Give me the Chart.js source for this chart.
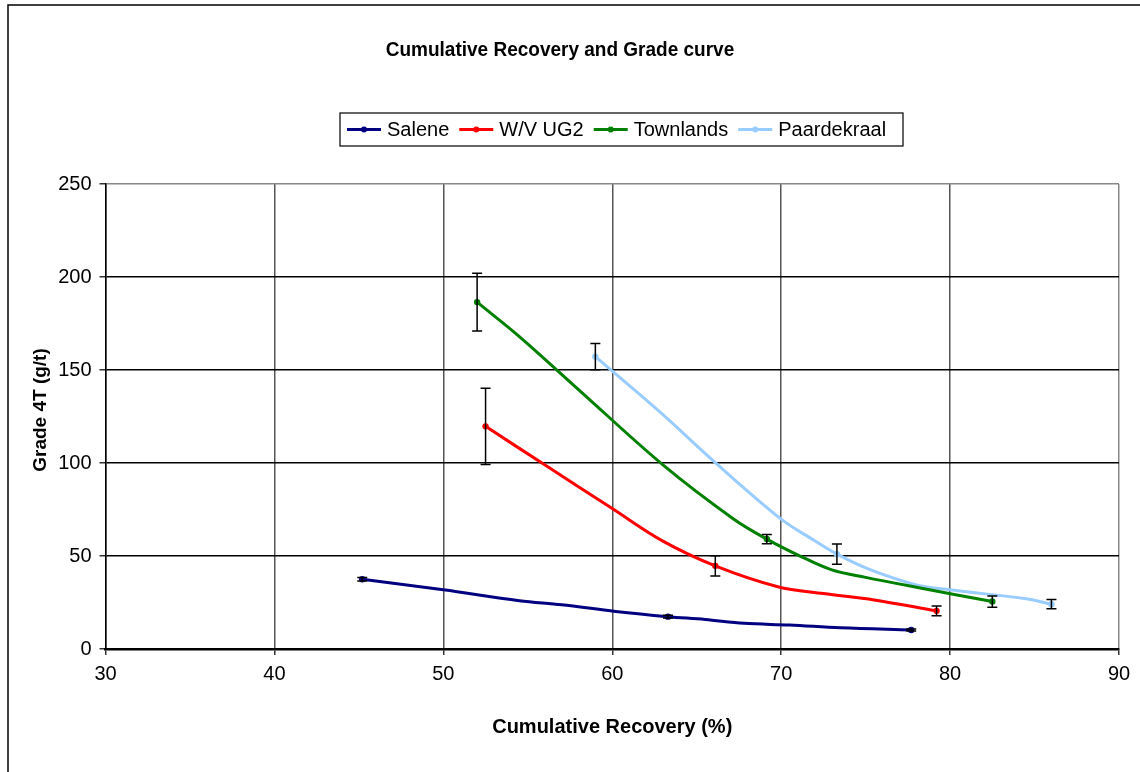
<!DOCTYPE html>
<html>
<head>
<meta charset="utf-8">
<script src="https://cdn.jsdelivr.net/npm/chart.js@4/dist/chart.umd.min.js"></script>
<style>
  html, body { margin: 0; padding: 0; background: #fff; }
  #wrap { width: 1140px; height: 772px; position: relative; }
</style>
</head>
<body>
<div id="wrap"><canvas id="c" width="1140" height="772"></canvas></div>
<script>
// ---- Data: cumulative recovery (%) vs grade 4T (g/t) ----
const seriesNames = ['Salene', 'W/V UG2', 'Townlands', 'Paardekraal'];

// Measured points (with error bars)
const saleneX = [45.2, 63.3, 77.7];
const saleneY = [37.5, 17.4, 10.2];
const saleneErr = [1.0, 0.8, 0.5];

const wvX = [52.5, 66.1, 79.2];
const wvY = [119.7, 44.7, 20.5];
const wvErr = [20.5, 5.5, 2.6];

const townX = [52.0, 69.15, 82.5];
const townY = [186.5, 59.1, 25.5];
const townErr = [15.5, 2.5, 3.0];

const paardX = [59.0, 73.3, 86.0];
const paardY = [157.2, 51.0, 24.1];
const paardErr = [7.0, 5.5, 2.5];

// Smoothed recovery-grade curves
const saleneCurveX = [45.2, 50, 54.5, 57, 60.2, 63.3, 65.5, 67.8, 70.5, 73.5, 77.7];
const saleneCurveY = [37.5, 31.8, 26.0, 23.8, 20.2, 17.4, 15.9, 13.8, 12.9, 11.4, 10.2];

const wvCurveX = [52.5, 56, 60, 63, 66.1, 69.8, 72.5, 75.5, 79.2];
const wvCurveY = [119.7, 99, 75.5, 58, 44.7, 33.5, 29.8, 26.4, 20.5];

const townCurveX = [52.0, 54.5, 58, 63, 67.2, 69.15, 71, 73, 75, 78, 82.5];
const townCurveY = [186.5, 168, 139.5, 99, 69.8, 59.1, 50.5, 42.5, 38.5, 33.2, 25.5];

const paardCurveX = [59.0, 63, 66, 70, 71.9, 73.3, 75.3, 78, 80, 84.5, 86.0];
const paardCurveY = [157.2, 126, 101, 69.8, 58.7, 51.0, 42.5, 34.5, 31.8, 27.0, 24.1];

// Axis ticks
const xTicks = [30, 40, 50, 60, 70, 80, 90];
const yTicks = [0, 50, 100, 150, 200, 250];

const titleText = 'Cumulative Recovery and Grade curve';
const xTitle = 'Cumulative Recovery (%)';
const yTitle = 'Grade 4T (g/t)';

const colors = ['#000080', '#FF0000', '#008000', '#99CCFF'];
const FONT = "'Liberation Sans', Arial, sans-serif";

const pts = (xs, ys) => xs.map((x, i) => ({ x: x, y: ys[i] }));

const curves = [
  pts(saleneCurveX, saleneCurveY),
  pts(wvCurveX, wvCurveY),
  pts(townCurveX, townCurveY),
  pts(paardCurveX, paardCurveY)
];
const measured = [
  { xs: saleneX, ys: saleneY, err: saleneErr },
  { xs: wvX, ys: wvY, err: wvErr },
  { xs: townX, ys: townY, err: townErr },
  { xs: paardX, ys: paardY, err: paardErr }
];

const datasets = [];
curves.forEach((c, i) => {
  datasets.push({
    label: seriesNames[i],
    data: c,
    showLine: true,
    borderColor: colors[i],
    backgroundColor: colors[i],
    borderWidth: 3,
    pointRadius: 0,
    tension: 0.35,
    order: 2
  });
});
measured.forEach((m, i) => {
  datasets.push({
    label: seriesNames[i] + ' measured',
    data: pts(m.xs, m.ys),
    errors: m.err,
    showLine: false,
    borderColor: colors[i],
    backgroundColor: colors[i],
    pointRadius: 3.2,
    pointBorderWidth: 0,
    order: 1
  });
});

// draw text squeezed horizontally (condensed face look)
function condensedText(ctx, text, x, y, sx) {
  ctx.save();
  ctx.translate(x, y);
  ctx.scale(sx, 1);
  ctx.fillText(text, 0, 0);
  ctx.restore();
}

// Error bars, titles, legend and frame
const decor = {
  id: 'decor',
  afterDatasetsDraw(chart) {
    const ctx = chart.ctx;
    const xs = chart.scales.x, ys = chart.scales.y;
    ctx.save();
    ctx.strokeStyle = '#000';
    ctx.lineWidth = 1.5;
    chart.data.datasets.forEach(ds => {
      if (!ds.errors) return;
      ds.data.forEach((p, i) => {
        const e = ds.errors[i];
        if (!e) return;
        const px = xs.getPixelForValue(p.x);
        const y1 = ys.getPixelForValue(p.y + e);
        const y2 = ys.getPixelForValue(p.y - e);
        ctx.beginPath();
        ctx.moveTo(px, y1); ctx.lineTo(px, y2);
        ctx.moveTo(px - 5, y1); ctx.lineTo(px + 5, y1);
        ctx.moveTo(px - 5, y2); ctx.lineTo(px + 5, y2);
        ctx.stroke();
      });
    });
    ctx.restore();
  },
  afterDraw(chart) {
    const ctx = chart.ctx;
    const a = chart.chartArea;
    ctx.save();
    // outer frame
    ctx.strokeStyle = '#000';
    ctx.lineWidth = 1.5;
    ctx.beginPath();
    ctx.moveTo(8, 772); ctx.lineTo(8, 5); ctx.lineTo(1140, 5);
    ctx.stroke();

    // chart title
    ctx.fillStyle = '#000';
    ctx.textAlign = 'center';
    ctx.textBaseline = 'middle';
    ctx.font = 'bold 20px ' + FONT;
    condensedText(ctx, titleText, 560, 50, 0.95);

    // x axis title
    ctx.font = 'bold 20px ' + FONT;
    condensedText(ctx, xTitle, (a.left + a.right) / 2, 727, 1.0);

    // y axis title
    ctx.save();
    ctx.translate(41, 410);
    ctx.rotate(-Math.PI / 2);
    ctx.font = 'bold 19px ' + FONT;
    ctx.fillText(yTitle, 0, 0);
    ctx.restore();

    // legend
    const lx = 340, ly = 113, lw = 563, lh = 33;
    ctx.lineWidth = 1.2;
    ctx.strokeStyle = '#000';
    ctx.strokeRect(lx, ly, lw, lh);
    ctx.font = '20px ' + FONT;
    ctx.textAlign = 'left';
    let cx = 347;
    const cy = ly + lh / 2;
    seriesNames.forEach((n, i) => {
      ctx.strokeStyle = colors[i];
      ctx.lineWidth = 3;
      ctx.beginPath();
      ctx.moveTo(cx, cy); ctx.lineTo(cx + 34, cy);
      ctx.stroke();
      ctx.fillStyle = colors[i];
      ctx.beginPath();
      ctx.arc(cx + 17, cy, 3, 0, Math.PI * 2);
      ctx.fill();
      ctx.fillStyle = '#000';
      ctx.fillText(n, cx + 40, cy + 1);
      cx += 40 + ctx.measureText(n).width + 10;
    });
    ctx.restore();
  }
};

new Chart(document.getElementById('c'), {
  type: 'scatter',
  data: { datasets: datasets },
  options: {
    responsive: false,
    animation: false,
    devicePixelRatio: 1,
    layout: { padding: { left: 0, right: 21, top: 184, bottom: 0 } },
    plugins: {
      legend: { display: false },
      tooltip: { enabled: false },
      title: { display: false }
    },
    scales: {
      x: {
        type: 'linear',
        min: 30, max: 90,
        afterBuildTicks(s) { s.ticks = xTicks.map(v => ({ value: v })); },
        afterFit(s) { s.height = 123; },
        ticks: {
          color: '#000',
          font: { family: FONT, size: 20 },
          padding: 7
        },
        grid: {
          color: ctx => (ctx.tick && ctx.tick.value === 90) ? '#888' : '#555',
          lineWidth: 1.5,
          tickLength: 6,
          tickColor: '#333'
        },
        border: { color: '#000', width: 2.5 }
      },
      y: {
        type: 'linear',
        min: 0, max: 250,
        afterBuildTicks(s) { s.ticks = yTicks.map(v => ({ value: v })); },
        afterFit(s) { s.width = 105.5; },
        ticks: {
          color: '#000',
          font: { family: FONT, size: 20 },
          padding: 8
        },
        grid: {
          color: ctx => (ctx.tick && ctx.tick.value === 250) ? '#888' : '#000',
          lineWidth: 1.5,
          tickLength: 6,
          tickColor: '#333'
        },
        border: { color: '#000', width: 1.5 }
      }
    }
  },
  plugins: [decor]
});
</script>
</body>
</html>
